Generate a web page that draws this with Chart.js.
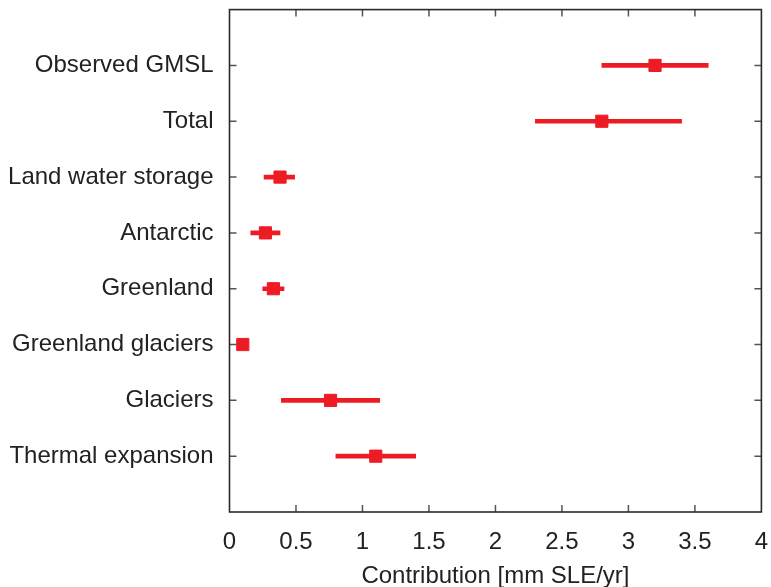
<!DOCTYPE html>
<html>
<head>
<meta charset="utf-8">
<title>Sea level budget</title>
<script src="https://cdn.jsdelivr.net/npm/chart.js@4.4.0/dist/chart.umd.min.js"></script>
<style>
  html, body { margin: 0; padding: 0; background: #fff; }
  #wrap { width: 771px; height: 587px; }
</style>
</head>
<body>
<div id="wrap"><canvas id="budget"></canvas></div>
<script>
// contributions, listed top to bottom
const categories = ['Observed GMSL', 'Total', 'Land water storage', 'Antarctic',
  'Greenland', 'Greenland glaciers', 'Glaciers', 'Thermal expansion'];
const central = [3.2, 2.8, 0.38, 0.27, 0.33, 0.1, 0.76, 1.1];
const lower   = [2.8, 2.3, 0.26, 0.16, 0.25, 0.08, 0.39, 0.8];
const upper   = [3.6, 3.4, 0.49, 0.38, 0.41, 0.12, 1.13, 1.4];
const xTicks  = [0, 0.5, 1, 1.5, 2, 2.5, 3, 3.5, 4];

const RED = '#ed1c24';
const n = categories.length;
const rowPos = i => n - i;   // top row sits highest on the y scale

Chart.defaults.font.family = '"Liberation Sans", Arial, sans-serif';
Chart.defaults.font.size = 24;
Chart.defaults.color = '#222';

// no extra room for overhanging end labels
function noPad(s) {
  s.paddingTop = 0; s.paddingBottom = 0;
  s.paddingLeft = 0; s.paddingRight = 0;
}

// frame plus inward tick marks on all four sides
const framePlugin = {
  id: 'frame',
  afterDraw(chart) {
    const { ctx, chartArea: a, scales: { x, y } } = chart;
    const len = 7;
    ctx.save();
    ctx.strokeStyle = '#555';
    ctx.lineWidth = 1.5;
    ctx.beginPath();
    xTicks.slice(1, -1).forEach(v => {
      const px = x.getPixelForValue(v);
      ctx.moveTo(px, a.bottom); ctx.lineTo(px, a.bottom - len);
      ctx.moveTo(px, a.top); ctx.lineTo(px, a.top + len);
    });
    categories.forEach((c, i) => {
      const py = y.getPixelForValue(rowPos(i));
      ctx.moveTo(a.left, py); ctx.lineTo(a.left + len, py);
      ctx.moveTo(a.right, py); ctx.lineTo(a.right - len, py);
    });
    ctx.stroke();
    ctx.strokeStyle = '#2a2a2a';
    ctx.lineWidth = 1.6;
    ctx.strokeRect(a.left, a.top, a.right - a.left, a.bottom - a.top);
    ctx.restore();
  }
};

new Chart(document.getElementById('budget'), {
  type: 'scatter',
  data: {
    datasets: [
      {
        type: 'scatter',
        data: categories.map((c, i) => ({ x: central[i], y: rowPos(i) })),
        pointStyle: 'rect',
        pointRadius: 8.6,
        pointHoverRadius: 8.6,
        backgroundColor: RED,
        borderColor: RED,
        borderWidth: 1
      },
      {
        type: 'bar',
        indexAxis: 'y',
        data: categories.map((c, i) => ({ y: rowPos(i), x: [lower[i], upper[i]] })),
        barThickness: 4,
        backgroundColor: RED,
        borderWidth: 0
      }
    ]
  },
  options: {
    responsive: true,
    maintainAspectRatio: false,
    animation: false,
    layout: { padding: { top: 9, right: 9, left: 0, bottom: 0 } },
    plugins: { legend: { display: false }, tooltip: { enabled: false } },
    scales: {
      x: {
        type: 'linear',
        min: 0,
        max: 4,
        offset: false,
        afterBuildTicks: s => { s.ticks = xTicks.map(v => ({ value: v })); },
        afterFit: s => { s.height = 75; noPad(s); },
        grid: { display: false },
        border: { display: false },
        ticks: { padding: 8, maxRotation: 0, callback: v => String(v) },
        title: {
          display: true,
          text: 'Contribution [mm SLE/yr]',
          padding: { top: 0, bottom: -4 }
        }
      },
      y: {
        type: 'linear',
        min: 0,
        max: 9,
        offset: false,
        afterBuildTicks: s => { s.ticks = categories.map((c, i) => ({ value: rowPos(i) })); },
        afterFit: s => { s.width = 229.5; noPad(s); },
        grid: { display: false },
        border: { display: false },
        ticks: {
          padding: 8,
          callback: v => categories[n - v]
        }
      }
    }
  },
  plugins: [framePlugin]
});
</script>
</body>
</html>
